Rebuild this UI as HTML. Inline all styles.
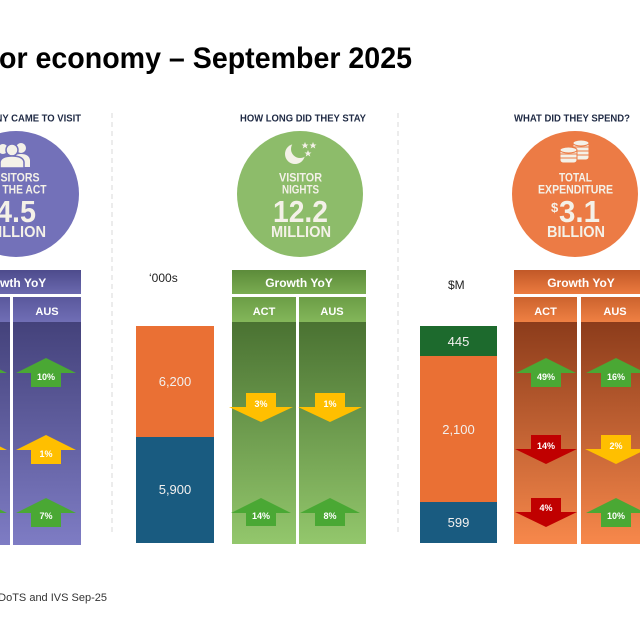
<!DOCTYPE html>
<html>
<head>
<meta charset="utf-8">
<style>
html,body{margin:0;padding:0;background:#fff;}
svg{display:block;}
text{font-family:"Liberation Sans",Arial,sans-serif;}
</style>
</head>
<body>
<svg width="640" height="640" viewBox="0 0 640 640" xmlns="http://www.w3.org/2000/svg">
<defs>
  <linearGradient id="pBar" x1="0" y1="0" x2="0" y2="1"><stop offset="0" stop-color="#4d4b8c"/><stop offset="1" stop-color="#6b69af"/></linearGradient>
  <linearGradient id="pHead" x1="0" y1="0" x2="0" y2="1"><stop offset="0" stop-color="#5a589c"/><stop offset="1" stop-color="#706eb5"/></linearGradient>
  <linearGradient id="pBody" x1="0" y1="0" x2="0" y2="1"><stop offset="0" stop-color="#44427b"/><stop offset="1" stop-color="#7e7cc4"/></linearGradient>

  <linearGradient id="gBar" x1="0" y1="0" x2="0" y2="1"><stop offset="0" stop-color="#5c8b3a"/><stop offset="1" stop-color="#7aac51"/></linearGradient>
  <linearGradient id="gHead" x1="0" y1="0" x2="0" y2="1"><stop offset="0" stop-color="#6c9d46"/><stop offset="1" stop-color="#83b65a"/></linearGradient>
  <linearGradient id="gBody" x1="0" y1="0" x2="0" y2="1"><stop offset="0" stop-color="#4a7232"/><stop offset="1" stop-color="#93c76c"/></linearGradient>

  <linearGradient id="oBar" x1="0" y1="0" x2="0" y2="1"><stop offset="0" stop-color="#c15827"/><stop offset="1" stop-color="#ec7b3f"/></linearGradient>
  <linearGradient id="oHead" x1="0" y1="0" x2="0" y2="1"><stop offset="0" stop-color="#cc632e"/><stop offset="1" stop-color="#ef8043"/></linearGradient>
  <linearGradient id="oBody" x1="0" y1="0" x2="0" y2="1"><stop offset="0" stop-color="#8c3c1b"/><stop offset="1" stop-color="#f7884b"/></linearGradient>
</defs>

<rect width="640" height="640" fill="#fff"/>

<!-- Title -->
<text x="-1" y="68" font-size="30" font-weight="bold" fill="#000" textLength="413" lengthAdjust="spacingAndGlyphs">or economy – September 2025</text>

<!-- Separators -->
<line x1="112" y1="113" x2="112" y2="533" stroke="#d9d9d9" stroke-width="1" stroke-dasharray="5,4"/>
<line x1="398" y1="113" x2="398" y2="533" stroke="#d9d9d9" stroke-width="1" stroke-dasharray="5,4"/>

<!-- Headings -->
<g font-size="9.8" font-weight="bold" fill="#1f2a44">
  <text x="81" y="121.7" text-anchor="end" textLength="126" lengthAdjust="spacingAndGlyphs">HOW MANY CAME TO VISIT</text>
  <text x="240" y="121.7" textLength="126" lengthAdjust="spacingAndGlyphs">HOW LONG DID THEY STAY</text>
  <text x="514" y="121.7" textLength="116" lengthAdjust="spacingAndGlyphs">WHAT DID THEY SPEND?</text>
</g>

<!-- Circles -->
<circle cx="16" cy="194" r="63" fill="#7371b9"/>
<circle cx="300" cy="194" r="63" fill="#8dbc6a"/>
<circle cx="575" cy="194" r="63" fill="#ec7b45"/>

<!-- People icon -->
<g fill="#f4f1e8">
  <circle cx="21" cy="148" r="5"/>
  <path d="M12 167 L12 160 Q13 154 21 154 Q29 154 30 160 L30 167 Z"/>
  <circle cx="3" cy="149" r="5"/>
  <circle cx="12" cy="150" r="6" stroke="#7371b9" stroke-width="1.5"/>
  <path d="M0 168 L0 162 Q1 156 12 156 Q23 156 24 162 L24 168 Z" stroke="#7371b9" stroke-width="1.5"/>
</g>

<!-- Moon icon -->
<g fill="#f4f1e8">
  <circle cx="295" cy="154" r="10"/>
  <circle cx="300" cy="149" r="9" fill="#8dbc6a"/>
  <polygon points="305,142 306,144.5 308.5,144.5 306.5,146 307.3,148.5 305,147 302.7,148.5 303.5,146 301.5,144.5 304,144.5"/>
  <polygon points="313,142 314,144.5 316.5,144.5 314.5,146 315.3,148.5 313,147 310.7,148.5 311.5,146 309.5,144.5 312,144.5"/>
  <polygon points="308,150 309,152.5 311.5,152.5 309.5,154 310.3,156.5 308,155 305.7,156.5 306.5,154 304.5,152.5 307,152.5"/>
</g>

<!-- Coins icon -->
<g fill="#f4f1e8" stroke="#ec7b45" stroke-width="1">
  <rect x="573" y="142" width="16" height="18" rx="3"/>
  <ellipse cx="581" cy="143" rx="8" ry="3"/>
  <line x1="573" y1="147" x2="589" y2="147"/>
  <line x1="573" y1="151" x2="589" y2="151"/>
  <line x1="573" y1="155" x2="589" y2="155"/>
  <rect x="560" y="149" width="17" height="14" rx="3"/>
  <ellipse cx="568.5" cy="150" rx="8.5" ry="3"/>
  <line x1="560" y1="154" x2="577" y2="154"/>
  <line x1="560" y1="158" x2="577" y2="158"/>
</g>

<!-- Circle text -->
<g font-weight="bold" fill="#f4f1e8" text-anchor="middle">
  <text x="15" y="181.5" font-size="12" textLength="49" lengthAdjust="spacingAndGlyphs">VISITORS</text>
  <text x="16" y="193.5" font-size="12" textLength="61" lengthAdjust="spacingAndGlyphs">TO THE ACT</text>
  <text x="16" y="222" font-size="31" textLength="40" lengthAdjust="spacingAndGlyphs">4.5</text>
  <text x="16" y="236.8" font-size="15.5" textLength="60" lengthAdjust="spacingAndGlyphs">MILLION</text>

  <text x="300.5" y="181.5" font-size="12" textLength="43" lengthAdjust="spacingAndGlyphs">VISITOR</text>
  <text x="300.5" y="193.5" font-size="12" textLength="37" lengthAdjust="spacingAndGlyphs">NIGHTS</text>
  <text x="300.5" y="222" font-size="31" textLength="55" lengthAdjust="spacingAndGlyphs">12.2</text>
  <text x="301" y="236.8" font-size="15.5" textLength="60" lengthAdjust="spacingAndGlyphs">MILLION</text>

  <text x="575.5" y="181.5" font-size="12" textLength="33" lengthAdjust="spacingAndGlyphs">TOTAL</text>
  <text x="575.5" y="193.5" font-size="12" textLength="75" lengthAdjust="spacingAndGlyphs">EXPENDITURE</text>
  <text x="576" y="236.8" font-size="15.5" textLength="58" lengthAdjust="spacingAndGlyphs">BILLION</text>
</g>
<g font-weight="bold" fill="#f4f1e8">
  <text x="551" y="212" font-size="13">$</text>
  <text x="559" y="222" font-size="31" textLength="41" lengthAdjust="spacingAndGlyphs">3.1</text>
</g>

<!-- LEFT PANEL -->
<rect x="-60" y="270" width="141" height="24" fill="url(#pBar)"/>
<rect x="-56" y="297" width="66" height="25" fill="url(#pHead)"/>
<rect x="13" y="297" width="68" height="25" fill="url(#pHead)"/>
<rect x="-56" y="322" width="66" height="223" fill="url(#pBody)"/>
<rect x="13" y="322" width="68" height="223" fill="url(#pBody)"/>
<g font-weight="bold" fill="#fff" text-anchor="middle">
  <text x="12.5" y="287" font-size="12">Growth YoY</text>
  <text x="-23" y="315" font-size="11">ACT</text>
  <text x="47" y="315" font-size="11">AUS</text>
</g>

<!-- MIDDLE PANEL -->
<text x="149" y="282" font-size="12" fill="#222">‘000s</text>
<rect x="136" y="326" width="78" height="111" fill="#ea7034"/>
<rect x="136" y="437" width="78" height="106" fill="#195b80"/>
<g font-size="13" fill="#f2f0ee" text-anchor="middle">
  <text x="175" y="386">6,200</text>
  <text x="175" y="494">5,900</text>
</g>
<rect x="232" y="270" width="134" height="24" fill="url(#gBar)"/>
<rect x="232" y="297" width="64" height="25" fill="url(#gHead)"/>
<rect x="299" y="297" width="67" height="25" fill="url(#gHead)"/>
<rect x="232" y="322" width="64" height="222" fill="url(#gBody)"/>
<rect x="299" y="322" width="67" height="222" fill="url(#gBody)"/>
<g font-weight="bold" fill="#fff" text-anchor="middle">
  <text x="299" y="287" font-size="12">Growth YoY</text>
  <text x="264" y="315" font-size="11">ACT</text>
  <text x="332" y="315" font-size="11">AUS</text>
</g>

<!-- RIGHT PANEL -->
<text x="448" y="289" font-size="12" fill="#222">$M</text>
<rect x="420" y="326" width="77" height="30" fill="#1d6a2d"/>
<rect x="420" y="356" width="77" height="146" fill="#ea7034"/>
<rect x="420" y="502" width="77" height="41" fill="#195b80"/>
<g font-size="13" fill="#f2f0ee" text-anchor="middle">
  <text x="458.5" y="346">445</text>
  <text x="458.5" y="434">2,100</text>
  <text x="458.5" y="527">599</text>
</g>
<rect x="514" y="270" width="134" height="24" fill="url(#oBar)"/>
<rect x="514" y="297" width="63" height="25" fill="url(#oHead)"/>
<rect x="581" y="297" width="67" height="25" fill="url(#oHead)"/>
<rect x="514" y="322" width="63" height="222" fill="url(#oBody)"/>
<rect x="581" y="322" width="67" height="222" fill="url(#oBody)"/>
<g font-weight="bold" fill="#fff" text-anchor="middle">
  <text x="581" y="287" font-size="12">Growth YoY</text>
  <text x="545.5" y="315" font-size="11">ACT</text>
  <text x="615" y="315" font-size="11">AUS</text>
</g>

<!-- ARROWS -->
<!-- Left ACT (cx=-23) -->
<polygon points="-23,358 7,373 -8,373 -8,387 -38,387 -38,373 -53,373" fill="#4aa834"/>
<polygon points="-23,435 7,450 -8,450 -8,464 -38,464 -38,450 -53,450" fill="#ffbf00"/>
<polygon points="-23,498 7,513 -8,513 -8,527 -38,527 -38,513 -53,513" fill="#4aa834"/>
<!-- Left AUS (cx=46) -->
<polygon points="46,358 76,373 61,373 61,387 31,387 31,373 16,373" fill="#4aa834"/>
<polygon points="46,435 76,450 61,450 61,464 31,464 31,450 16,450" fill="#ffbf00"/>
<polygon points="46,498 76,513 61,513 61,527 31,527 31,513 16,513" fill="#4aa834"/>

<!-- Middle ACT (cx=261) -->
<polygon points="246,393 276,393 276,407 293,407 261,422 229,407 246,407" fill="#ffbf00"/>
<polygon points="261,498 291,513 276,513 276,526 246,526 246,513 231,513" fill="#4aa834"/>
<!-- Middle AUS (cx=330) -->
<polygon points="315,393 345,393 345,407 362,407 330,422 298,407 315,407" fill="#ffbf00"/>
<polygon points="330,498 360,513 345,513 345,526 315,526 315,513 300,513" fill="#4aa834"/>

<!-- Right ACT (cx=546) -->
<polygon points="546,358 576,373 561,373 561,387 531,387 531,373 516,373" fill="#4aa834"/>
<polygon points="531,435 561,435 561,449 577,449 546,464 515,449 531,449" fill="#c00000"/>
<polygon points="531,498 561,498 561,512 577,512 546,527 515,512 531,512" fill="#c00000"/>
<!-- Right AUS (cx=616) -->
<polygon points="616,358 646,373 631,373 631,387 601,387 601,373 586,373" fill="#4aa834"/>
<polygon points="601,435 631,435 631,449 647,449 616,464 585,449 601,449" fill="#ffbf00"/>
<polygon points="616,498 646,513 631,513 631,527 601,527 601,513 586,513" fill="#4aa834"/>

<!-- Arrow labels -->
<g font-size="9" font-weight="bold" fill="#fff" text-anchor="middle">
  <text x="46" y="380">10%</text>
  <text x="46" y="457">1%</text>
  <text x="46" y="519">7%</text>

  <text x="261" y="407">3%</text>
  <text x="261" y="519">14%</text>
  <text x="330" y="407">1%</text>
  <text x="330" y="519">8%</text>

  <text x="546" y="380">49%</text>
  <text x="546" y="449">14%</text>
  <text x="546" y="511">4%</text>
  <text x="616" y="380">16%</text>
  <text x="616" y="449">2%</text>
  <text x="616" y="519">10%</text>
</g>

<!-- Source -->
<text x="107" y="601" font-size="11" fill="#333" text-anchor="end">Source: NVS, DoTS and IVS Sep-25</text>
</svg>
</body>
</html>
